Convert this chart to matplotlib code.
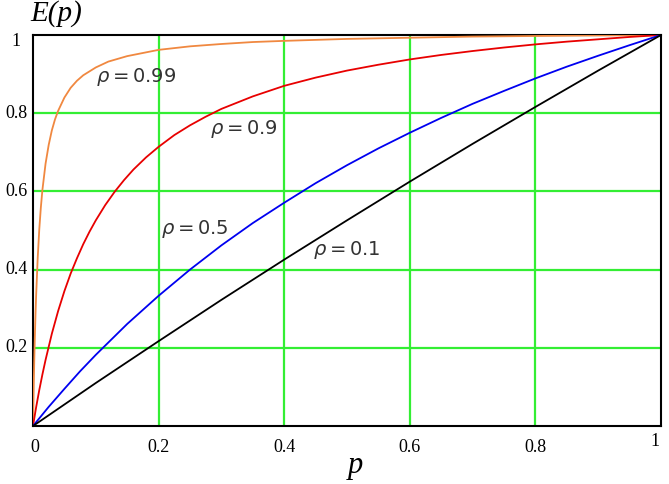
import matplotlib
matplotlib.use("Agg")
import matplotlib.pyplot as plt

# values
p_099 = [0, 0.001, 0.002, 0.003, 0.004, 0.005, 0.0075, 0.01, 0.0125, 0.015, 0.02, 0.025, 0.03, 0.035,
         0.04, 0.05, 0.06, 0.07, 0.08, 0.1, 0.12, 0.15, 0.2, 0.25, 0.3, 0.35, 0.4, 0.5, 0.6, 0.7, 0.8, 0.9, 1.0]
e_099 = [0, 0.091, 0.167, 0.231, 0.287, 0.334, 0.430, 0.503, 0.559, 0.604, 0.671, 0.719, 0.756, 0.784,
         0.806, 0.840, 0.865, 0.883, 0.897, 0.917, 0.932, 0.946, 0.962, 0.971, 0.977, 0.982, 0.985, 0.990,
         0.993, 0.996, 0.9975, 0.9989, 1.0]

p_09 = [0, 0.005, 0.01, 0.015, 0.02, 0.03, 0.04, 0.05, 0.06, 0.07, 0.08, 0.09, 0.1, 0.115, 0.13, 0.145,
        0.16, 0.18, 0.2, 0.225, 0.25, 0.275, 0.3, 0.35, 0.4, 0.45, 0.5, 0.55, 0.6, 0.65, 0.7, 0.75, 0.8,
        0.85, 0.9, 0.95, 1.0]
e_09 = [0, 0.048, 0.092, 0.132, 0.169, 0.236, 0.294, 0.345, 0.390, 0.429, 0.465, 0.497, 0.526, 0.565,
        0.599, 0.629, 0.656, 0.687, 0.714, 0.744, 0.769, 0.791, 0.811, 0.843, 0.870, 0.891, 0.909, 0.924,
        0.9375, 0.949, 0.959, 0.968, 0.976, 0.983, 0.989, 0.995, 1.0]

p_05 = [0, 0.025, 0.05, 0.075, 0.1, 0.15, 0.2, 0.25, 0.3, 0.35, 0.4, 0.45, 0.5, 0.55, 0.6, 0.65, 0.7,
        0.75, 0.8, 0.85, 0.9, 0.95, 1.0]
e_05 = [0, 0.049, 0.095, 0.140, 0.182, 0.261, 0.333, 0.400, 0.462, 0.519, 0.571, 0.621, 0.667, 0.710,
        0.750, 0.788, 0.824, 0.857, 0.889, 0.919, 0.947, 0.974, 1.0]

p_01 = [0, 0.1, 0.2, 0.3, 0.4, 0.5, 0.6, 0.7, 0.8, 0.9, 1.0]
e_01 = [0, 0.110, 0.217, 0.3226, 0.4255, 0.526, 0.625, 0.7216, 0.816, 0.909, 1.0]

ticks = [0.2, 0.4, 0.6, 0.8]
tick_labels = ["0.2", "0.4", "0.6", "0.8"]

plt.rcParams['mathtext.fontset'] = 'dejavusans'

fig = plt.figure(figsize=(6.69, 4.84), dpi=100)
ax = fig.add_axes([33/669, 58/484, 628/669, 391/484])

grid_col = '#33ee33'
for t in ticks:
    ax.axvline(t, color=grid_col, lw=1.6, zorder=1)
    ax.axhline(t, color=grid_col, lw=1.6, zorder=1)

ax.plot(p_099, e_099, color='#f08840', lw=1.3, zorder=3)
ax.plot(p_09, e_09, color='#e80000', lw=1.3, zorder=3)
ax.plot(p_05, e_05, color='#0000f0', lw=1.3, zorder=3)
ax.plot(p_01, e_01, color='black', lw=1.3, zorder=3)

ax.set_xlim(0, 1)
ax.set_ylim(0, 1)
ax.set_xticks([])
ax.set_yticks([])
for s in ax.spines.values():
    s.set_linewidth(1.5)

lab_kw = dict(fontsize=14, color='#333333', va='center', ha='left')
ax.text(0.100, 0.892, r'$\rho = 0.99$', **lab_kw)
ax.text(0.282, 0.759, r'$\rho = 0.9$', **lab_kw)
ax.text(0.204, 0.505, r'$\rho = 0.5$', **lab_kw)
ax.text(0.446, 0.451, r'$\rho = 0.1$', **lab_kw)

serif = 'Liberation Serif'
tk = dict(fontsize=13, family=serif, color='black')
# x tick labels
fig.text(35/669, 1 - 447/484, "0", ha='center', va='center', **tk)
for t, l in zip(ticks, tick_labels):
    fig.text((33 + t*628)/669, 1 - 447/484, l, ha='center', va='center', **tk)
fig.text(655/669, 1 - 441/484, "1", ha='center', va='center', **tk)
# y tick labels
fig.text(16/669, 1 - 42/484, "1", ha='center', va='center', **tk)
for t, l in zip(ticks, tick_labels):
    fig.text(28/669, 1 - (426 - t*390)/484, l, ha='right', va='center', **tk)

fig.text(30/669, 1 - 14/484, "E(p)", ha='left', va='center', fontsize=21, family=serif, style='italic')
fig.text(355/669, 1 - 465/484, "p", ha='center', va='center', fontsize=22, family=serif, style='italic')

fig.savefig("out.png", dpi=100)
